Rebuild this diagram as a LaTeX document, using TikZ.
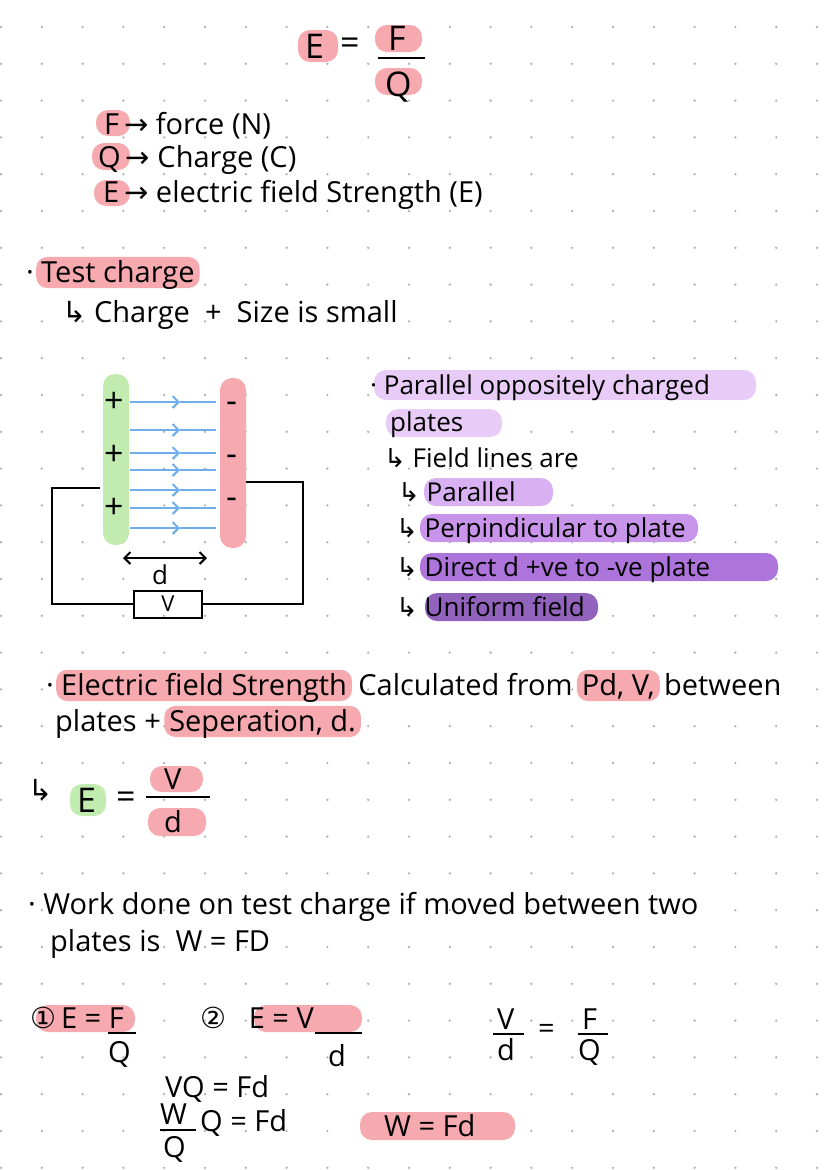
\documentclass[tikz,border=0pt]{standalone}
\usepackage{fontspec}
\setmainfont{Open Sans}
\newfontfamily\symf{DejaVu Sans}
\usetikzlibrary{arrows.meta}
\definecolor{pk}{HTML}{F6A9AE}
\definecolor{gr}{HTML}{C2EBB0}
\definecolor{bl}{HTML}{6FAEEB}
\definecolor{l1}{HTML}{E8CCF7}
\definecolor{l2}{HTML}{D9B0F2}
\definecolor{l3}{HTML}{C895EA}
\definecolor{l4}{HTML}{AD74DC}
\definecolor{l5}{HTML}{9163BC}
\tikzset{
 t/.style={anchor=base west,inner sep=0pt,font=\fontsize{29}{32}\selectfont},
 ts/.style={t,font=\fontsize{26}{30}\selectfont},
 tb/.style={t,font=\fontsize{34}{38}\selectfont},
 hn/.style={t,fill=#1,rounded corners=11pt,inner xsep=5pt,inner ysep=3pt,text depth=3pt},
 hl/.style={fill=#1,rounded corners=12pt},
 fl/.style={bl,line width=2pt,-{Straight Barb[length=6pt,width=12pt]}},
 wire/.style={line width=2pt,black},
}
\newcommand{\arr}{{\symf\char"21B3}}
\newcommand{\rar}{{\symf\char"2192}}
\begin{document}
\begin{tikzpicture}[x=1pt,y=-1pt]
\useasboundingbox (0,0) rectangle (828,1170);
\fill[white] (0,0) rectangle (828,1170);
\foreach \i in {0,...,20} \foreach \j in {0,...,31}
  \fill[gray!60] (\i*40.8+1,\j*36.8+27) circle (1.3pt);
% top formula
\fill[hl=pk] (298,30) rectangle (338,62);
\fill[hl=pk] (375,25) rectangle (422,52);
\fill[hl=pk] (375,68) rectangle (422,95);
\node[tb] (e0) at (305,58) {E};
\node[tb] (e0b) at (340,54) {=};
\draw[wire] (378,58) -- (425,58);
\node[tb] (f0) at (388,50) {F};
\node[tb] (q0) at (385,96) {Q};
% legend
\fill[hl=pk] (96,110) rectangle (130,136);
\fill[hl=pk] (92,143) rectangle (130,170);
\fill[hl=pk] (94,180) rectangle (130,206);
\node[t] (lf) at (104,134) {F\,\rar\ force (N)};
\node[t] (lq) at (98,167) {Q\,\rar\ Charge (C)};
\node[t] (le) at (103,202) {E\,\rar\ electric field Strength (E)};
% test charge
\node[t] (tcd) at (26,282) {·};
\node[hn=pk] (tc) at (36,282) {Test charge};
\node[t] (tc2) at (62,322) {\arr\ Charge\ \ +\ \ Size is small};
% plates
\fill[gr,rounded corners=12pt] (103,374) rectangle (129,545);
\fill[pk,rounded corners=12pt] (220,378) rectangle (246,548);
\node[tb] (p1) at (104,412) {+};
\node[tb] (p2) at (104,465) {+};
\node[tb] (p3) at (104,518) {+};
\node[tb] (m1) at (226,412) {-};
\node[tb] (m2) at (226,465) {-};
\node[tb] (m3) at (226,508) {-};
\foreach \y in {402,430,453,470,490,508,528}
  \draw[fl] (130,\y) -- (180,\y);
\foreach \y in {402,430,453,470,490,508,528}
  \draw[bl,line width=2pt] (180,\y) -- (216,\y);
\node[draw,line width=2pt,minimum width=68pt,minimum height=27pt,inner sep=0pt,font=\fontsize{22}{24}\selectfont] (vb) at (168,604) {V};
\draw[wire] (100,488) -- (52,488) -- (52,604) -- (vb.west);
\draw[wire] (246,482) -- (303,482) -- (303,604) -- (vb.east);
\draw[line width=2pt,{Straight Barb[length=6pt,width=12pt]}-{Straight Barb[length=6pt,width=12pt]}] (123,558) -- (207,558);
\node[ts] (dd) at (152,584) {d};
% right list
\fill[hl=l1] (374,370) rectangle (756,400);
\fill[hl=l1] (386,409) rectangle (502,437);
\fill[hl=l2] (424,478) rectangle (553,506);
\fill[hl=l3] (420,514) rectangle (698,542);
\fill[hl=l4] (420,553) rectangle (778,581);
\fill[hl=l5] (425,593) rectangle (598,621);
\node[ts] (r1) at (370,394) {· Parallel oppositely charged};
\node[ts] (r2) at (390,431) {plates};
\node[ts] (r3) at (384,467) {\arr\ Field lines are};
\node[ts] (r4) at (398,501) {\arr\ Parallel};
\node[ts] (r5) at (396,537) {\arr\ Perpindicular to plate};
\node[ts] (r6) at (396,576) {\arr\ Direct d +ve to -ve plate};
\node[ts] (r7) at (396,616) {\arr\ Uniform field};
% electric field strength
\node[t] (s1a) at (46,695) {·};
\node[hn=pk] (s1b) at (56,695) {Electric field Strength};
\node[t] (s1c) at ([xshift=6pt]s1b.base east) {Calculated from};
\node[hn=pk] (s1d) at ([xshift=4pt]s1c.base east) {Pd, V,};
\node[t] (s1e) at ([xshift=4pt]s1d.base east) {between};
\node[t] (s2) at (55,731) {plates + };
\node[hn=pk] (s2b) at ([xshift=3pt]s2.base east) {Seperation, d.};
\fill[hl=gr] (70,784) rectangle (106,816);
\fill[hl=pk] (150,766) rectangle (203,792);
\fill[hl=pk] (148,808) rectangle (206,836);
\node[t] (s3a) at (28,800) {\arr};
\node[tb] (s3) at (77,812) {E};
\node[tb] (s3b) at (116,808) {=};
\draw[wire] (146,797) -- (210,797);
\node[t] (sv) at (164,789) {V};
\node[t] (sd) at (164,832) {d};
% work done
\node[t] (w1) at (28,914) {· Work done on test charge if moved between two};
\node[t] (w2) at (50,951) {plates is\ \ W = FD};
% final
\fill[hl=pk] (36,1005) rectangle (135,1032);
\fill[hl=pk] (254,1005) rectangle (362,1032);
\fill[hl=pk] (360,1112) rectangle (515,1140);
\node[t] (c1) at (30,1028) {{\symf ①}\,E = F};
\draw[wire] (108,1033) -- (136,1033);
\node[t] (c1q) at (108,1062) {Q};
\node[t] (c2) at (200,1028) {{\symf ②}\ \ \ E = V};
\draw[wire] (315,1033) -- (362,1033);
\node[t] (c2d) at (328,1066) {d};
\node[t] (c3) at (497,1029) {V};
\draw[wire] (493,1034) -- (524,1034);
\node[t] (c3d) at (497,1060) {d};
\node[t] (c3e) at (538,1038) {=};
\node[t] (c3f) at (582,1029) {F};
\draw[wire] (578,1034) -- (608,1034);
\node[t] (c3q) at (578,1060) {Q};
\node[t] (g1) at (165,1097) {VQ = Fd};
\node[t] (g2w) at (160,1124) {W};
\draw[wire] (160,1130) -- (196,1130);
\node[t] (g2q) at (163,1157) {Q};
\node[t] (g2) at (200,1131) {Q = Fd};
\node[t] (g3) at (384,1136) {W = Fd};
\end{tikzpicture}
\end{document}
